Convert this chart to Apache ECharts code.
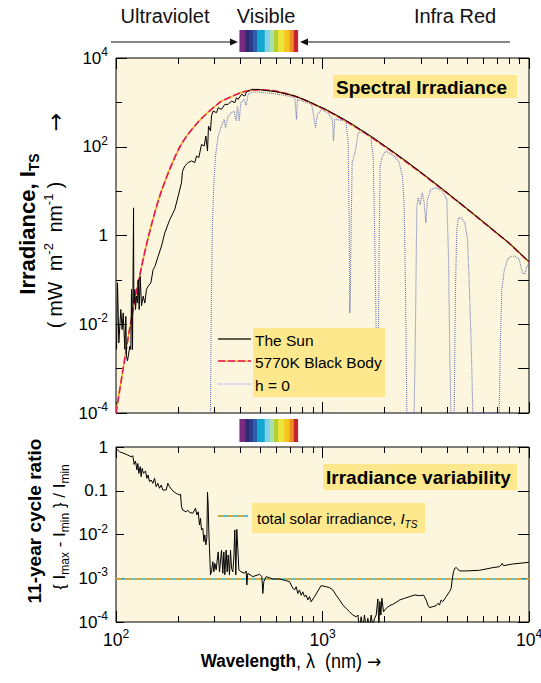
<!DOCTYPE html>
<html><head><meta charset="utf-8">
<script src="https://cdn.jsdelivr.net/npm/echarts@6/dist/echarts.min.js"></script>
<style>html,body{margin:0;padding:0;background:#fff}#c{width:541px;height:683px}</style>
</head><body><div id="c"></div>
<script>
// ---------- data (wavelength nm, value) ----------
const sunSpectrum = [
 [100.6,2.7e-3],[101.7,0.086],[103.2,3.8e-3],[105.5,0.0215],[107.1,7.6e-3],[108.3,0.018],[110.4,2.7e-3],
 [111.6,0.015],[112.4,1.9e-3],[113.7,1.5e-3],[116.7,3.2e-3],[118.0,2.7e-3],[118.9,0.061],[120.2,2.7e-3],
 [121.6,4.2],[122.0,0.030],[123.4,0.061],[124.3,0.0215],[125.7,0.043],[127.1,0.030],[128.0,0.10],
 [129.5,0.0215],[130.9,0.12],[132.9,0.026],[135.4,0.043],[137.9,0.030],[140.5,0.061],[143.1,0.072],
 [147.5,0.086],[151.3,0.17],[154.2,0.20],[160.0,0.34],[166.1,0.58],[172.4,1.15],[182.3,2.3],[192.7,3.9],
 [200.0,7.7],[207.6,15.5],[209.9,28],[215.4,37],[223.7,44],[232.1,48],[240.9,44],[245.4,62],[251.9,57],
 [259.4,113],[267.3,104],[272.3,174],[277.4,80],[280.5,293],[286.8,226],[290.0,492],[295.4,638],
 [306.7,585],[312.5,759],[324.2,697],[336.5,902],[349.3,902],[362.5,1072],[376.2,984],[383.3,1276],
 [390.5,1169],[405.3,1517],[420.7,1390],[428.5,1710],[453.2,1963],[488.1,1963],[525.7,1866],[610.1,1710],
 [734.7,1390],[884.7,984],[970.7,790],[1000,755],[1100,600],[1200,482],[1300,390],[1400,318],[1500,258],
 [1600,212],[1700,178],[1800,149],[2000,105],[2200,77],[2500,50],[3000,26.5],[3500,15.2],[4000,9.3],
 [5000,4.05],[6000,2.04],[7000,1.13],[8000,0.68],[10000,0.26]
];
const blackBody5770K = [
 [100,1.0e-4],[108.3,1e-3],[117.5,1e-2],[129,0.1],[144,1],[166,10],[204,100],[250,360],[318,1000],
 [350,1250],[400,1640],[450,1880],[500,1930],[550,1880],[600,1770],[700,1480],[800,1190],[946,826],
 [1000,740],[1250,418],[1500,250],[2000,102],[2500,48.4],[3000,25.7],[4000,9.1],[5000,4.0],[6000,2.0],
 [7000,1.12],[8000,0.67],[10000,0.25]
];
const seaLevelH0 = [
 [286.8,1e-4],[288.0,1.9e-3],[290.0,0.061],[293.3,1.94],[297.8,15.5],[303.3,62],[312.5,174],[324.2,293],
 [334.1,414],[339.1,269],[349.3,492],[362.5,585],[373.4,638],[381.8,379],[387.5,828],[394.8,379],
 [402.3,984],[417.5,1169],[427.0,857],[436.6,1517],[453.2,1710],[488.1,1710],[566.2,1596],[657.2,1439],
 [734.7,1276],[748.2,414],[756.6,1169],[884.7,902],[901.2,585],[924.9,269],[946,537],[988.9,697],
 [1057.4,585],[1117.8,414],[1130.3,135],[1147.2,414],[1297.2,379],[1331.4,123],[1346.4,1.94],
 [1356.5,0.018],[1366.6,0.086],[1376.8,1.94],[1392.2,44],[1434.2,73],[1461.1,113],[1488.5,207],
 [1591.3,226],[1714.4,160],[1759.6,62],[1792.6,0.69],[1819.5,6.4e-3],[1860.5,5.7e-4],[1881.3,0.69],
 [1902.4,37],[1952.7,62],[2026.6,80],[2223.8,62],[2351.3,44],[2440.3,22],[2486.1,4.6],[2523.3,0.061],
 [2561.1,1e-4],[2779.3,1e-4],[2820.9,0.011],[2863.1,4.6],[2905.9,7.1],[2971.8,5.0],[3038.9,9.2],
 [3107.4,5.5],[3165.7,1.94],[3225.1,6.5],[3347.2,10.9],[3538.6,11.9],[3812.9,10.0],[4000.1,6.5],
 [4075,0.34],[4136,1.9e-3],[4182,1e-4],[4340,1e-4],[4405,0.061],[4471,1.37],[4555,2.5],[4710,2.5],
 [4889,1.94],[5037,0.82],[5150,0.061],[5267,1.9e-3],[5346,1e-4],[7171,1e-4],[7279,5.0e-3],[7388,0.061],
 [7583,0.16],[7870,0.29],[8168,0.34],[8636,0.34],[8964,0.29],[9302,0.145],[9546,0.135],[9725,0.19],
 [9982,0.234]
];
const cycleRatio = [
 [100,0.93],[104,0.78],[112,0.68],[118.4,0.60],[120.6,0.63],[122.4,0.40],[124.3,0.48],[126.2,0.30],
 [127.6,0.42],[129.0,0.25],[130.9,0.355],[132.4,0.21],[133.8,0.325],[135.9,0.25],[139.0,0.283],
 [141.0,0.192],[143.1,0.229],[145.3,0.161],[148.0,0.176],[150.8,0.148],[153.7,0.192],[156.5,0.124],
 [159.4,0.148],[162.4,0.114],[165.5,0.135],[168.6,0.104],[175.0,0.104],[178.2,0.148],[181.6,0.124],
 [188.5,0.099],[195.6,0.087],[203.0,0.080],[205.3,0.084],[207.6,0.043],[210.7,0.036],[218.7,0.033],
 [222.8,0.036],[227.0,0.032],[235.5,0.0305],[242.7,0.040],[246.3,0.028],[250.0,0.033],[253.7,0.0165],
 [256.6,0.0234],[259.4,0.0127],[263.4,0.0138],[266.3,0.0069],[269.3,0.0098],[272.3,0.0058],[275.4,0.0082],
 [277.4,0.092],[279.5,0.047],[281.5,0.0116],[283.6,0.0048],[286.8,0.0012],[290.0,0.0014],[294.4,0.0024],
 [297.7,0.0014],[301.0,0.0022],[305.5,0.00155],[312.4,0.0040],[317.1,0.0014],[324.3,0.0044],
 [329.2,0.0013],[332.9,0.0040],[336.5,0.0012],[341.6,0.0044],[345.4,0.0014],[349.3,0.0034],
 [354.5,0.0012],[358.5,0.0044],[362.5,0.0017],[367.9,0.0014],[372.0,0.0029],[376.2,0.0127],
 [380.4,0.0012],[384.7,0.0131],[389.0,0.0048],[393.4,0.00155],[403.7,0.0014],[419.1,0.0013],
 [426.9,0.00147],[430.1,0.0007],[434.9,0.0013],[459.8,0.00109],[495.4,0.00123],[508.5,0.00109],
 [514.2,0.00045],[519.9,0.00084],[533.6,0.00109],[574.8,0.00096],[619.0,0.00096],[654.5,0.0009],
 [692.0,0.00084],[718.3,0.00059],[731.7,0.00054],[745.5,0.00064],[759.4,0.00045],[773.7,0.00054],
 [788.2,0.00041],[803.0,0.00049],[818.0,0.00038],[833.4,0.00041],[849.2,0.00032],[865.0,0.00038],
 [881.3,0.00029],[914.7,0.00038],[985.2,0.00068],[1041.7,0.00064],[1081.2,0.00061],[1122.1,0.00054],
 [1164.6,0.00041],[1208.7,0.00032],[1254.5,0.000245],[1302.0,0.000205],[1351.3,0.000172],
 [1402.6,0.000144],[1455.7,0.000132],[1483.0,0.000144],[1510.8,0.00007],[1539.2,0.000132],
 [1568.0,0.00007],[1597.5,0.000144],[1627.4,0.00007],[1658.0,0.000121],[1689.1,0.00007],
 [1720.8,0.000144],[1753.1,0.00008],[1786.0,0.000121],[1819.5,0.000144],[1853.6,0.000336],
 [1874.4,0.00008],[1895.4,0.000292],[1916.7,0.000144],[1938.2,0.000348],[1974.5,0.000172],
 [2034.1,0.000205],[2111.1,0.000236],[2191.1,0.000254],[2274.1,0.000282],[2359.7,0.000318],
 [2495.1,0.000348],[2638.1,0.000379],[2789.2,0.000414],[2949.1,0.0004],[3083.6,0.000414],
 [3176.6,0.000318],[3236.2,0.000245],[3296.9,0.000213],[3421.8,0.000224],[3551.3,0.000236],
 [3618.0,0.000267],[3685.8,0.000245],[3754.9,0.000318],[3825.3,0.000292],[3969.8,0.000379],
 [4120.3,0.000493],[4197.6,0.000588],[4244.7,0.000912],[4308.2,0.00141],[4372.8,0.00169],
 [4438.3,0.00175],[4521.5,0.00163],[4606.3,0.00147],[4962.8,0.00147],[5758.4,0.00152],[6202.9,0.00163],
 [6679.5,0.00175],[7196.5,0.00184],[7331.4,0.00201],[7413.8,0.00219],[7524.8,0.00194],[8349.9,0.00212],
 [9980,0.00231]
];
const tsiRatio = 9.6e-4;
const wavelengthRange = [100, 10000];
const irradianceRange = [1e-4, 1e4];
const ratioRange = [1e-4, 1];
const visibleEdges = [396, 423, 440, 462, 482, 525, 556, 583, 610, 654, 693, 726, 757];
const visibleColors = ['#7b2a84','#2e2b6f','#2b3b90','#2a5ea8','#12a7cf','#80d0e6','#a9dfae','#b6cf24','#ece33c','#f8c31c','#ee8d22','#c3262d'];
const minorMultipliers = [2,3,4,5,6,7,8,9];
const decades = [100, 1000];

// ---------- helpers ----------
const L = Math.log10;
const F = "'Liberation Sans', Arial, Helvetica, sans-serif";
const FA = "'DejaVu Sans', sans-serif";
const toLog = arr => arr.map(p => [L(p[0]), L(p[1])]);
const xMin = L(wavelengthRange[0]), xMax = L(wavelengthRange[1]);
const minorX = decades.flatMap(d => minorMultipliers.map(m => L(d * m)));
const majorX = [2, 3, 4];
const supRich = {
  sup: {fontSize: 12, fontFamily: F, color: '#000', verticalAlign: 'top', lineHeight: 11}
};
function xTick(grid, pos, values, len, labels) {
  return {
    type: 'value', gridIndex: grid, position: pos, min: xMin, max: xMax, interval: 1,
    axisLine: {show: false, onZero: false}, splitLine: {show: false},
    axisTick: {show: true, inside: true, length: len, customValues: values, lineStyle: {color: '#000', width: 1}},
    axisLabel: labels ? {
      show: true, customValues: majorX, margin: 6, fontSize: 17.5, fontFamily: F, color: '#000', lineHeight: 24,
      formatter: v => '10{sup|' + Math.round(v) + '}', rich: supRich
    } : {show: false}
  };
}
function yTick(grid, pos, min, max, interval, len, formatter) {
  return {
    type: 'value', gridIndex: grid, position: pos, min, max, interval,
    axisLine: {show: false, onZero: false}, splitLine: {show: false},
    axisTick: {show: true, inside: true, length: len, lineStyle: {color: '#000', width: 1}},
    axisLabel: formatter ? {
      show: true, margin: 8, fontSize: 17, fontFamily: F, color: '#000', lineHeight: 24,
      formatter, rich: supRich
    } : {show: false}
  };
}
const topFmt = v => { v = Math.round(v); return v === 0 ? '1' : '10{sup|' + v + '}'; };
const botFmt = v => { v = Math.round(v); return v === 0 ? '1' : (v === -1 ? '0.1' : '10{sup|' + v + '}'); };

const stripeData = visibleColors.map((c, i) => [L(visibleEdges[i]), L(visibleEdges[i + 1]), 0.5]);
function stripeSeries(xi, yi) {
  return {
    type: 'custom', xAxisIndex: xi, yAxisIndex: yi, silent: true, data: stripeData,
    encode: {x: [0, 1], y: 2},
    renderItem(params, api) {
      const a = api.coord([api.value(0), 1]);
      const b = api.coord([api.value(1), 0]);
      return {type: 'rect', shape: {x: a[0], y: a[1], width: b[0] - a[0] + 0.6, height: b[1] - a[1]},
              style: {fill: visibleColors[params.dataIndex]}};
    }
  };
}
const cream = '#fbf6dd';
const boxYellow = '#fde88d';
const lineBase = {type: 'line', symbol: 'none', showSymbol: false, silent: true, clip: true};

const option = {
  animation: false,
  backgroundColor: '#fff',
  grid: [
    {left: 116, top: 58, width: 413, height: 355, show: true, backgroundColor: cream, borderColor: '#000', borderWidth: 1, outerBoundsMode: 'none'},
    {left: 116, top: 447, width: 413, height: 175, show: true, backgroundColor: cream, borderColor: '#000', borderWidth: 1, outerBoundsMode: 'none'},
    {left: 116, top: 30, width: 413, height: 22, show: false, outerBoundsMode: 'none'},
    {left: 116, top: 419, width: 413, height: 23, show: false, outerBoundsMode: 'none'}
  ],
  xAxis: [
    xTick(0, 'bottom', majorX, 11, false),
    xTick(0, 'bottom', minorX, 6, false),
    xTick(0, 'top', majorX, 11, false),
    xTick(0, 'top', minorX, 6, false),
    xTick(1, 'bottom', majorX, 11, true),
    xTick(1, 'bottom', minorX, 6, false),
    xTick(1, 'top', majorX, 11, false),
    xTick(1, 'top', minorX, 6, false),
    {type: 'value', gridIndex: 2, min: xMin, max: xMax, show: false},
    {type: 'value', gridIndex: 3, min: xMin, max: xMax, show: false}
  ],
  yAxis: [
    yTick(0, 'left', L(irradianceRange[0]), L(irradianceRange[1]), 2, 11, topFmt),
    yTick(0, 'left', L(irradianceRange[0]), L(irradianceRange[1]), 1, 6, null),
    yTick(0, 'right', L(irradianceRange[0]), L(irradianceRange[1]), 1, 11, null),
    yTick(1, 'left', L(ratioRange[0]), L(ratioRange[1]), 1, 8, botFmt),
    yTick(1, 'right', L(ratioRange[0]), L(ratioRange[1]), 1, 11, null),
    {type: 'value', gridIndex: 2, min: 0, max: 1, show: false},
    {type: 'value', gridIndex: 3, min: 0, max: 1, show: false}
  ],
  series: [
    Object.assign({}, lineBase, {name: 'h = 0', xAxisIndex: 0, yAxisIndex: 0, z: 2,
      data: toLog(seaLevelH0), lineStyle: {color: '#4f5db3', width: 1.1, type: [1, 1], opacity: 0.85}}),
    Object.assign({}, lineBase, {name: '5770K Black Body', xAxisIndex: 0, yAxisIndex: 0, z: 3, smooth: 0.3,
      data: toLog(blackBody5770K), lineStyle: {color: '#f6b620', width: 1.6}}),
    Object.assign({}, lineBase, {name: '5770K Black Body ', xAxisIndex: 0, yAxisIndex: 0, z: 4, smooth: 0.3,
      data: toLog(blackBody5770K), lineStyle: {color: '#e5185c', width: 1.6, type: [7, 3]}}),
    Object.assign({}, lineBase, {name: 'The Sun', xAxisIndex: 0, yAxisIndex: 0, z: 5,
      data: toLog(sunSpectrum), lineStyle: {color: '#000', width: 1}}),
    Object.assign({}, lineBase, {name: 'TSI', xAxisIndex: 4, yAxisIndex: 3, z: 3,
      data: toLog([[wavelengthRange[0], tsiRatio], [wavelengthRange[1], tsiRatio]]), lineStyle: {color: '#2bb2c6', width: 1.6}}),
    Object.assign({}, lineBase, {name: 'TSI ', xAxisIndex: 4, yAxisIndex: 3, z: 4,
      data: toLog([[wavelengthRange[0], tsiRatio], [wavelengthRange[1], tsiRatio]]), lineStyle: {color: '#f2a21d', width: 1.6, type: [6, 4]}}),
    Object.assign({}, lineBase, {name: '11-year cycle ratio', xAxisIndex: 4, yAxisIndex: 3, z: 5,
      data: toLog(cycleRatio), lineStyle: {color: '#000', width: 1}}),
    stripeSeries(8, 5),
    stripeSeries(9, 6)
  ],
  graphic: [
    // region labels
    {type: 'text', x: 165, y: 16, style: {text: 'Ultraviolet', fontSize: 20, fontFamily: F, fill: '#111', align: 'center', verticalAlign: 'middle'}},
    {type: 'text', x: 266, y: 16, style: {text: 'Visible', fontSize: 20, fontFamily: F, fill: '#111', align: 'center', verticalAlign: 'middle'}},
    {type: 'text', x: 455, y: 16, style: {text: 'Infra Red', fontSize: 20, fontFamily: F, fill: '#111', align: 'center', verticalAlign: 'middle'}},
    // arrows
    {type: 'line', shape: {x1: 111, y1: 42, x2: 233, y2: 42}, style: {stroke: '#111', lineWidth: 1.2}},
    {type: 'polygon', shape: {points: [[238, 42], [230, 38.5], [230, 45.5]]}, style: {fill: '#111'}},
    {type: 'line', shape: {x1: 510, y1: 42, x2: 305, y2: 42}, style: {stroke: '#111', lineWidth: 1.2}},
    {type: 'polygon', shape: {points: [[300, 42], [308, 38.5], [308, 45.5]]}, style: {fill: '#111'}},
    // panel titles
    {type: 'rect', shape: {x: 333, y: 75, width: 184, height: 23}, style: {fill: boxYellow}, z: 10},
    {type: 'text', x: 336, y: 87, z: 11, style: {text: 'Spectral Irradiance', fontSize: 19, fontWeight: 'bold', fontFamily: F, fill: '#000', align: 'left', verticalAlign: 'middle'}},
    {type: 'rect', shape: {x: 323, y: 464, width: 194, height: 26}, style: {fill: boxYellow}, z: 10},
    {type: 'text', x: 326, y: 477.5, z: 11, style: {text: 'Irradiance variability', fontSize: 19, fontWeight: 'bold', fontFamily: F, fill: '#000', align: 'left', verticalAlign: 'middle'}},
    // top legend
    {type: 'rect', shape: {x: 253, y: 328, width: 132, height: 69}, style: {fill: boxYellow}, z: 10},
    {type: 'line', z: 11, shape: {x1: 218, y1: 339, x2: 251, y2: 339}, style: {stroke: '#2b2b1e', lineWidth: 1.5}},
    {type: 'line', z: 11, shape: {x1: 218, y1: 361, x2: 251, y2: 361}, style: {stroke: '#f6b620', lineWidth: 1.6}},
    {type: 'line', z: 12, shape: {x1: 218, y1: 361, x2: 251, y2: 361}, style: {stroke: '#e5185c', lineWidth: 1.6, lineDash: [7, 3]}},
    {type: 'line', z: 11, shape: {x1: 218, y1: 384, x2: 251, y2: 384}, style: {stroke: '#8a93c4', lineWidth: 1.2, lineDash: [1, 1]}},
    {type: 'text', x: 255, y: 340, z: 11, style: {text: 'The Sun', fontSize: 15.5, fontFamily: F, fill: '#000', align: 'left', verticalAlign: 'middle'}},
    {type: 'text', x: 255, y: 362, z: 11, style: {text: '5770K Black Body', fontSize: 15.5, fontFamily: F, fill: '#000', align: 'left', verticalAlign: 'middle'}},
    {type: 'text', x: 255, y: 385, z: 11, style: {text: 'h = 0', fontSize: 15.5, fontFamily: F, fill: '#000', align: 'left', verticalAlign: 'middle'}},
    // bottom legend
    {type: 'rect', shape: {x: 252, y: 503, width: 173, height: 30}, style: {fill: boxYellow}, z: 10},
    {type: 'line', z: 11, shape: {x1: 218, y1: 516, x2: 248, y2: 516}, style: {stroke: '#2bb2c6', lineWidth: 1.6}},
    {type: 'line', z: 12, shape: {x1: 218, y1: 516, x2: 248, y2: 516}, style: {stroke: '#f2a21d', lineWidth: 1.6, lineDash: [6, 4]}},
    {type: 'text', x: 257, y: 518, z: 11, style: {
      text: 'total solar irradiance, {i|I}{isub|TS}', fontSize: 15, fontFamily: F, fill: '#000', align: 'left', verticalAlign: 'middle', lineHeight: 22,
      rich: {i: {fontSize: 15, fontStyle: 'italic', fontFamily: F, fill: '#000', lineHeight: 22},
             isub: {fontSize: 10, fontStyle: 'italic', fontFamily: F, fill: '#000', verticalAlign: 'bottom', lineHeight: 14}}}},
    // y titles
    {type: 'text', x: 27, y: 224, rotation: Math.PI / 2, style: {
      text: '{b|Irradiance, I}{bs|TS}', align: 'center', verticalAlign: 'middle', fill: '#000',
      rich: {b: {fontSize: 22, fontWeight: 'bold', fontFamily: F, fill: '#000', lineHeight: 28},
             bs: {fontSize: 14, fontWeight: 'bold', fontFamily: F, fill: '#000', verticalAlign: 'bottom', lineHeight: 16}}}},
    {type: 'text', x: 55, y: 255, rotation: Math.PI / 2, style: {
      text: '( mW  m{sup|-2}  nm{sup|-1} )', fontSize: 19.5, fontFamily: F, fill: '#000', align: 'center', verticalAlign: 'middle', lineHeight: 26,
      rich: {sup: {fontSize: 13, fontFamily: F, fill: '#000', verticalAlign: 'top', lineHeight: 13}}}},
    {type: 'text', x: 55, y: 122, rotation: Math.PI / 2, style: {text: '→', fontSize: 22, fontFamily: FA, fill: '#000', align: 'center', verticalAlign: 'middle'}},
    {type: 'text', x: 34, y: 521, rotation: Math.PI / 2, style: {
      text: '11-year cycle ratio', fontSize: 19, fontWeight: 'bold', fontFamily: F, fill: '#000', align: 'center', verticalAlign: 'middle'}},
    {type: 'text', x: 59, y: 527, rotation: Math.PI / 2, style: {
      text: '{ I{sub|max} - I{sub|min} } / I{sub|min}', fontSize: 17, fontFamily: F, fill: '#000', align: 'center', verticalAlign: 'middle', lineHeight: 24,
      rich: {sub: {fontSize: 12, fontFamily: F, fill: '#000', verticalAlign: 'bottom', lineHeight: 14}}}},
    // x title
    {type: 'text', x: 291, y: 661, scaleX: 0.9, style: {
      text: '{b|Wavelength}, λ  (nm) {a|→}', fontSize: 20, fontFamily: F, fill: '#000', align: 'center', verticalAlign: 'middle',
      rich: {b: {fontSize: 19, fontWeight: 'bold', fontFamily: F, fill: '#000'},
             a: {fontSize: 19, fontFamily: FA, fill: '#000'}}}}
  ]
};
const chart = echarts.init(document.getElementById('c'), null, {renderer: 'svg', width: 541, height: 683});
chart.setOption(option);
</script></body></html>
